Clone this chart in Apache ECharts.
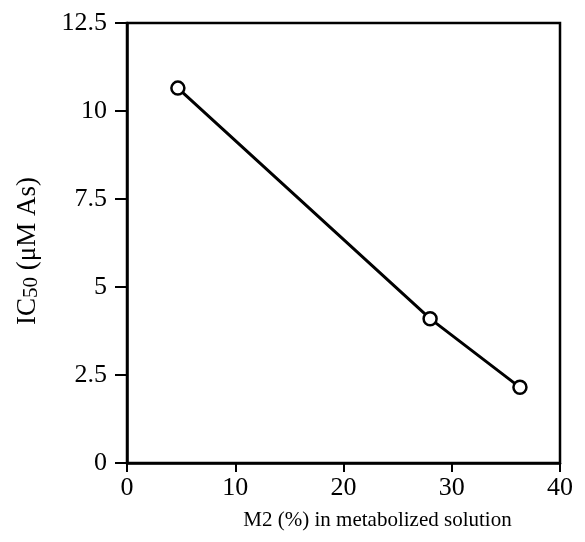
<!DOCTYPE html>
<html>
<head>
<meta charset="utf-8">
<script src="https://cdn.jsdelivr.net/npm/echarts@6/dist/echarts.min.js"></script>
<style>
  html, body { margin: 0; padding: 0; background: #fff; }
  #chart { width: 585px; height: 542px; }
</style>
</head>
<body>
<div id="chart"></div>
<script>
// M2 share (%) vs IC50 (uM As)
const m2Percent = [4.7, 28.0, 36.3];
const ic50 = [10.65, 4.1, 2.15];
const xTicks = [0, 10, 20, 30, 40];
const yTicks = [0, 2.5, 5, 7.5, 10, 12.5];

const font = '"Liberation Serif", "DejaVu Serif", serif';
const chart = echarts.init(document.getElementById('chart'));

chart.setOption({
    backgroundColor: '#fff',
    animation: false,
    grid: {
        left: 127, right: 25, top: 23, bottom: 79,
        show: true, borderColor: '#000', borderWidth: 2.5
    },
    xAxis: {
        type: 'value', min: 0, max: 40, interval: 10,
        name: 'M2 (%) in metabolized solution',
        nameLocation: 'middle', nameGap: 47,
        nameTextStyle: { fontFamily: font, fontSize: 21, color: '#000', padding: [0, 0, 0, 68] },
        axisLine: { lineStyle: { color: '#000', width: 2.5 } },
        axisTick: { show: true, length: 9, lineStyle: { color: '#000', width: 2 } },
        axisLabel: {
            fontFamily: font, fontSize: 26, color: '#000', margin: 12,
            formatter: v => xTicks.includes(v) ? String(v) : ''
        },
        splitLine: { show: false }
    },
    yAxis: {
        type: 'value', min: 0, max: 12.5, interval: 2.5,
        name: '{n|IC}{s|50}{n| (μM As)}',
        nameLocation: 'middle', nameGap: 85, nameRotate: 90,
        nameTextStyle: {
            padding: [0, 16, 0, 0],
            rich: {
                n: { fontFamily: font, fontSize: 27, color: '#000' },
                s: { fontFamily: font, fontSize: 21, color: '#000', verticalAlign: 'bottom', padding: [8, 0, 0, 0] }
            }
        },
        axisLine: { lineStyle: { color: '#000', width: 2.5 } },
        axisTick: { show: true, length: 12, lineStyle: { color: '#000', width: 2 } },
        axisLabel: {
            fontFamily: font, fontSize: 26, color: '#000', margin: 20,
            formatter: v => yTicks.includes(v) ? String(v) : ''
        },
        splitLine: { show: false }
    },
    series: [{
        type: 'line',
        data: m2Percent.map((x, i) => [x, ic50[i]]),
        symbol: 'circle', symbolSize: 13,
        lineStyle: { color: '#000', width: 3 },
        itemStyle: { color: '#fff', borderColor: '#000', borderWidth: 2.5 },
        z: 3
    }]
});
</script>
</body>
</html>
